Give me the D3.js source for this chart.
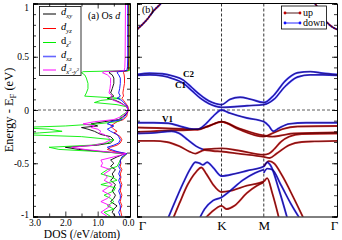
<!DOCTYPE html>
<html>
<head>
<meta charset="utf-8">
<script src="https://cdn.jsdelivr.net/npm/d3@7"></script>
<style>
body { margin: 0; background: #fff; }
svg { display: block; font-family: "Liberation Serif", "Times New Roman", serif; }
</style>
</head>
<body>
<div id="chart"></div>
<script>
// DOS data: energy grid and projected DOS of each Os d orbital
const energy = [1.0, 0.5, 0.4, 0.37, 0.36, 0.35, 0.33, 0.3, 0.25, 0.2, 0.16, 0.13, 0.11, 0.09, 0.07, 0.05, 0.03, 0.0,
  -0.03, -0.06, -0.09, -0.11, -0.13, -0.15, -0.165, -0.18, -0.2, -0.215, -0.23, -0.25, -0.28, -0.31, -0.33, -0.35,
  -0.37, -0.39, -0.41, -0.44, -0.47, -0.5, -0.53, -0.56, -0.6, -0.63, -0.66, -0.7, -0.73, -0.76, -0.8, -0.83, -0.86,
  -0.9, -0.93, -0.96, -1.0];
const dosXY = [0.04, 0.04, 0.05, 0.06, 0.6, 0.65, 0.55, 0.5, 0.5, 0.55, 0.6, 0.5, 0.7, 0.45, 0.3, 0.2, 0.1, 0.06,
  0.1, 0.2, 0.35, 0.8, 1.2, 1.0, 1.5, 1.3, 1.1, 1.0, 0.9, 0.6, 0.5, 0.6, 1.0, 2.0,
  1.6, 0.9, 0.15, 0.4, 0.6, 0.5, 0.6, 0.45, 0.55, 0.5, 0.6, 0.45, 0.5, 0.55, 0.45, 0.5, 0.6,
  0.4, 0.5, 0.55, 0.45];
const dosYZ = [0.03, 0.03, 0.03, 0.04, 0.2, 0.2, 0.18, 0.17, 0.17, 0.2, 0.22, 0.2, 0.25, 0.2, 0.15, 0.1, 0.06, 0.05,
  0.08, 0.1, 0.2, 0.4, 0.5, 0.6, 0.55, 0.5, 0.4, 0.5, 0.4, 0.3, 0.25, 0.3, 0.4, 0.6,
  0.7, 0.5, 0.1, 0.2, 0.3, 0.28, 0.3, 0.25, 0.3, 0.28, 0.3, 0.25, 0.28, 0.3, 0.25, 0.28, 0.3,
  0.25, 0.3, 0.28, 0.25];
const dosZ2 = [0.0, 0.0, 0.0, 0.02, 1.45, 1.5, 1.4, 1.35, 1.3, 1.3, 1.35, 1.4, 0.3, 0.9, 1.1, 0.4, 0.1, 0.05,
  0.15, 0.3, 0.25, 0.4, 1.0, 2.0, 3.5, 2.5, 2.1, 2.8, 3.5, 1.5, 0.5, 0.7, 1.2, 2.5,
  2.2, 1.0, 0.1, 0.2, 0.3, 0.35, 0.4, 0.7, 0.9, 0.55, 0.4, 0.9, 0.45, 0.5, 0.8, 0.6, 0.5,
  0.7, 0.5, 0.8, 0.6];
const dosXZ = [0.07, 0.07, 0.08, 0.1, 0.35, 0.4, 0.35, 0.3, 0.3, 0.32, 0.35, 0.3, 0.4, 0.25, 0.2, 0.12, 0.08, 0.06,
  0.1, 0.15, 0.25, 0.6, 0.7, 0.5, 0.6, 0.7, 0.6, 0.5, 0.4, 0.35, 0.3, 0.35, 0.5, 0.7,
  0.6, 0.4, 0.1, 0.25, 0.3, 0.3, 0.35, 0.3, 0.35, 0.3, 0.35, 0.3, 0.3, 0.35, 0.3, 0.3, 0.35,
  0.3, 0.3, 0.35, 0.3];
const dosX2Y2 = [0.14, 0.15, 0.16, 0.18, 0.8, 0.85, 0.7, 0.6, 0.6, 0.62, 0.65, 0.55, 0.6, 0.5, 0.35, 0.2, 0.1, 0.06,
  0.12, 0.25, 0.5, 1.1, 1.45, 1.1, 1.2, 1.0, 0.9, 0.95, 0.8, 0.7, 0.6, 0.8, 1.1, 1.8,
  1.4, 0.8, 0.12, 0.5, 0.9, 0.85, 0.9, 0.6, 0.8, 0.7, 0.8, 0.55, 0.7, 0.85, 0.6, 0.7, 0.9,
  0.6, 0.75, 0.9, 0.7];
const dosSeries = [
  { name: "xy", values: dosXY, color: "#000000" },
  { name: "yz", values: dosYZ, color: "#ff0000" },
  { name: "z2", values: dosZ2, color: "#00ee00" },
  { name: "xz", values: dosXZ, color: "#0000ff" },
  { name: "x2y2", values: dosX2Y2, color: "#ff00ff" }
];

// band structure along Γ-K-M-Γ, points are [k, E]
const kTicks = [0, 1, 1.5, 2.366];
const kLabels = ["Γ", "K", "M", "Γ"];
const bandTopL = [[0, 0.756], [0.06, 0.8], [0.12, 0.85], [0.19, 0.925], [0.3, 1.02], [0.33, 1.06]];
const bandTopR = [[2.04, 1.06], [2.09, 1.02], [2.17, 0.915], [2.25, 0.82], [2.32, 0.775], [2.366, 0.756]];
const bandC2 = [[0, 0.333], [0.15, 0.345], [0.3, 0.34], [0.42, 0.32], [0.55, 0.28], [0.65, 0.21], [0.75, 0.14],
  [0.85, 0.085], [0.93, 0.06], [1.0, 0.05], [1.1, 0.1], [1.22, 0.12], [1.35, 0.1], [1.5, 0.07], [1.62, 0.14],
  [1.75, 0.27], [1.9, 0.35], [2.05, 0.36], [2.2, 0.345], [2.366, 0.333]];
const bandC1 = [[0, 0.325], [0.15, 0.33], [0.3, 0.32], [0.42, 0.295], [0.55, 0.25], [0.65, 0.18], [0.75, 0.11],
  [0.85, 0.06], [0.93, 0.035], [1.0, 0.025], [1.15, 0.03], [1.3, 0.04], [1.5, 0.05], [1.62, 0.1], [1.75, 0.22],
  [1.9, 0.31], [2.05, 0.33], [2.2, 0.33], [2.366, 0.325]];
const bandV1 = [[0, -0.12], [0.2, -0.12], [0.37, -0.125], [0.5, -0.15], [0.62, -0.175], [0.72, -0.18], [0.8, -0.14],
  [0.9, -0.06], [1.0, 0.0], [1.1, -0.03], [1.3, -0.075], [1.5, -0.11], [1.56, -0.15], [1.61, -0.2], [1.68, -0.17],
  [1.8, -0.13], [2.0, -0.12], [2.366, -0.12]];
const bandM2 = [[0, -0.165], [0.3, -0.17], [0.55, -0.178], [0.72, -0.185], [0.85, -0.15], [1.0, -0.11], [1.2, -0.18],
  [1.5, -0.25], [1.6, -0.22], [1.72, -0.18], [1.9, -0.155], [2.366, -0.15]];
const bandM3 = [[0, -0.205], [0.2, -0.2], [0.4, -0.19], [0.55, -0.19], [0.72, -0.18], [0.85, -0.15], [1.0, -0.11],
  [1.2, -0.17], [1.5, -0.24], [1.6, -0.25], [1.7, -0.24], [1.85, -0.22], [2.366, -0.21]];
const bandM5a = [[0, -0.22], [0.2, -0.215], [0.41, -0.2], [0.5, -0.22], [0.6, -0.28], [0.7, -0.34], [0.78, -0.37]];
const bandM5b = [[0.78, -0.37], [0.88, -0.365], [1.0, -0.36], [1.2, -0.38], [1.5, -0.42], [1.56, -0.41],
  [1.62, -0.37], [1.7, -0.3], [1.8, -0.25], [1.95, -0.225], [2.366, -0.22]];
const bandM4 = [[0, -0.29], [0.2, -0.29], [0.35, -0.3], [0.5, -0.34], [0.62, -0.39], [0.69, -0.41], [0.75, -0.39],
  [0.8, -0.375], [0.9, -0.385], [1.0, -0.39], [1.2, -0.41], [1.5, -0.44], [1.57, -0.45], [1.65, -0.41],
  [1.8, -0.33], [1.95, -0.3], [2.1, -0.295], [2.366, -0.29]];
const bandL1 = [[0.35, -1.05], [0.45, -0.86], [0.55, -0.68], [0.64, -0.54], [0.69, -0.49], [0.74, -0.5],
  [0.78, -0.515], [0.83, -0.49], [0.9, -0.54], [1.0, -0.62], [1.15, -0.6], [1.3, -0.57], [1.5, -0.53],
  [1.54, -0.49], [1.58, -0.52], [1.68, -0.75], [1.79, -1.05]];
const bandL2 = [[0.41, -1.05], [0.5, -0.88], [0.6, -0.7], [0.7, -0.58], [0.76, -0.54], [0.82, -0.6], [0.9, -0.7],
  [1.0, -0.77], [1.1, -0.76], [1.3, -0.71], [1.5, -0.67], [1.54, -0.64], [1.6, -0.78], [1.69, -1.05]];
const bandB3 = [[0.72, -1.05], [0.8, -0.93], [0.9, -0.85], [1.0, -0.82], [1.1, -0.76], [1.25, -0.66],
  [1.4, -0.59], [1.5, -0.56]];
const bandR3 = [[0.77, -1.05], [0.88, -0.96], [1.0, -0.9], [1.06, -0.93], [1.15, -0.9], [1.3, -0.78],
  [1.42, -0.71], [1.5, -0.68]];
const bandD1 = [[1.5, -0.53], [1.56, -0.48], [1.62, -0.5], [1.72, -0.62], [1.85, -0.82], [1.99, -1.05]];
const bandD2 = [[1.5, -0.59], [1.54, -0.55], [1.6, -0.56], [1.7, -0.7], [1.82, -0.88], [1.95, -1.05]];

const bands = [
  { pts: bandTopL, spin: "up" }, { pts: bandTopR, spin: "up" },
  { pts: bandTopL, spin: "down" }, { pts: bandTopR, spin: "down" },
  { pts: bandM4, spin: "up" }, { pts: bandM5b, spin: "up" }, { pts: bandM3, spin: "up" },
  { pts: bandM2, spin: "up" }, { pts: bandL2, spin: "up" }, { pts: bandR3, spin: "up" }, { pts: bandD1, spin: "up" },
  { pts: bandM5a, spin: "down" }, { pts: bandV1, spin: "down" }, { pts: bandC1, spin: "down" },
  { pts: bandC2, spin: "down" }, { pts: bandL1, spin: "down" }, { pts: bandB3, spin: "down" },
  { pts: bandD2, spin: "down" }
];
const spinColor = { up: "#c00000", down: "#1010ff" };

const width = 342;
const height = 240;

const svg = d3.select("#chart")
  .append("svg")
  .attr("width", width)
  .attr("height", height);

const yScale = d3.scaleLinear().domain([-1, 1]).range([216.5, 3.5]);
const xDos = d3.scaleLinear().domain([3, 0]).range([33, 130]);
const xBand = d3.scaleLinear().domain([0, 2.366]).range([137, 337]);

const defs = svg.append("defs");
defs.append("clipPath").attr("id", "clipDos")
  .append("rect").attr("x", 33).attr("y", 3.5).attr("width", 97).attr("height", 213);
defs.append("clipPath").attr("id", "clipBand")
  .append("rect").attr("x", 137).attr("y", 3.5).attr("width", 200).attr("height", 213);

// ---------- (a) DOS panel ----------
const dosG = svg.append("g");
dosG.append("line")
  .attr("x1", 33).attr("x2", 130).attr("y1", yScale(0)).attr("y2", yScale(0))
  .attr("stroke", "#333").attr("stroke-width", 0.8).attr("stroke-dasharray", "3,2");

const dosLine = d3.line()
  .x(d => xDos(d[1]))
  .y(d => yScale(d[0]));

dosG.append("g").attr("clip-path", "url(#clipDos)")
  .selectAll("path")
  .data(dosSeries)
  .enter()
  .append("path")
  .attr("d", s => dosLine(energy.map((e, i) => [e, s.values[i]])))
  .attr("fill", "none")
  .attr("stroke", s => s.color)
  .attr("stroke-width", 0.9);

function styleAxis(g) {
  g.select(".domain").attr("stroke", "#000").attr("stroke-width", 1);
  g.selectAll(".tick line").attr("stroke", "#000").attr("stroke-width", 0.8);
  g.selectAll(".tick text").attr("font-family", "Liberation Serif, serif").attr("font-size", 9.5).attr("fill", "#000");
}
const minorE = d3.range(-1, 1.001, 0.1).map(v => +v.toFixed(1));

// left axis with labels
dosG.append("g").attr("transform", "translate(33,0)")
  .call(d3.axisLeft(yScale).tickValues([-1, -0.5, 0, 0.5, 1]).tickSize(-5).tickPadding(4)
    .tickFormat(d => String(d)))
  .call(styleAxis)
  .selectAll(".tick text").attr("dy", d => d === 1 ? "0.75em" : (d === -1 ? "0.1em" : "0.32em"));
dosG.append("g").attr("transform", "translate(33,0)")
  .call(d3.axisLeft(yScale).tickValues(minorE).tickSize(-3).tickFormat(""))
  .call(styleAxis);
// right axis of DOS panel
dosG.append("g").attr("transform", "translate(130,0)")
  .call(d3.axisRight(yScale).tickValues([-1, -0.5, 0, 0.5, 1]).tickSize(-5).tickFormat(""))
  .call(styleAxis);
dosG.append("g").attr("transform", "translate(130,0)")
  .call(d3.axisRight(yScale).tickValues(minorE).tickSize(-3).tickFormat(""))
  .call(styleAxis);
// bottom and top
dosG.append("g").attr("transform", "translate(0,216.5)")
  .call(d3.axisBottom(xDos).tickValues([3, 2, 1, 0]).tickSize(-5).tickPadding(3))
  .call(styleAxis)
  .selectAll(".tick text").attr("dx", d => d === 0 ? -2 : (d === 3 ? 1.5 : 0));
dosG.append("g").attr("transform", "translate(0,216.5)")
  .call(d3.axisBottom(xDos).tickValues([2.5, 1.5, 0.5]).tickSize(-3).tickFormat(""))
  .call(styleAxis);
dosG.append("g").attr("transform", "translate(0,3.5)")
  .call(d3.axisTop(xDos).tickValues([3, 2, 1, 0]).tickSize(-5).tickFormat(""))
  .call(styleAxis);
dosG.append("g").attr("transform", "translate(0,3.5)")
  .call(d3.axisTop(xDos).tickValues([2.5, 1.5, 0.5]).tickSize(-3).tickFormat(""))
  .call(styleAxis);

// DOS legend
const legG = dosG.append("g");
legG.append("rect").attr("x", 39.5).attr("y", 6.5).attr("width", 41.5).attr("height", 69)
  .attr("fill", "#fff").attr("stroke", "#000").attr("stroke-width", 0.8);
const legRows = [14, 28.5, 42.5, 56.5, 70];
const legSubs = ["xy", "yz", "z", "xz", "x"];
dosSeries.forEach((s, i) => {
  const y = legRows[i];
  legG.append("line").attr("x1", 43).attr("x2", 56).attr("y1", y).attr("y2", y)
    .attr("stroke", s.color).attr("stroke-width", i === 3 ? 1.6 : 1).attr("stroke-opacity", i === 3 ? 0.6 : 1);
  const t = legG.append("text").attr("x", 61).attr("y", y + 1).attr("font-size", 10.5);
  t.append("tspan").attr("font-style", i === 2 ? "normal" : "italic").text("d");
  t.append("tspan").attr("font-size", 6.5).attr("dy", 3).attr("font-style", "italic").text(legSubs[i]);
  if (i === 2) {
    t.append("tspan").attr("font-size", 5).attr("dy", -3).text("2");
  } else if (i === 4) {
    t.append("tspan").attr("font-size", 5).attr("dy", -3).text("2");
    t.append("tspan").attr("font-size", 6.5).attr("dy", 3).text("-");
    t.append("tspan").attr("font-size", 6.5).attr("font-style", "italic").text("y");
    t.append("tspan").attr("font-size", 5).attr("dy", -3).text("2");
  }
});

const aLabel = dosG.append("text").attr("x", 88).attr("y", 19).attr("font-size", 10);
aLabel.append("tspan").text("(a) Os ");
aLabel.append("tspan").attr("font-style", "italic").text("d");

// ---------- (b) band panel ----------
const bandG = svg.append("g");
bandG.append("line")
  .attr("x1", 137).attr("x2", 337).attr("y1", yScale(0)).attr("y2", yScale(0))
  .attr("stroke", "#333").attr("stroke-width", 0.8).attr("stroke-dasharray", "3,2");
bandG.selectAll(".kline")
  .data(kTicks.slice(1, 3))
  .enter()
  .append("line")
  .attr("x1", d => xBand(d)).attr("x2", d => xBand(d))
  .attr("y1", 3.5).attr("y2", 216.5)
  .attr("stroke", "#000").attr("stroke-width", 0.8).attr("stroke-dasharray", "3,2");

const bandLine = d3.line()
  .curve(d3.curveMonotoneX)
  .x(d => xBand(d[0]))
  .y(d => yScale(d[1]));

const bandLayer = bandG.append("g").attr("clip-path", "url(#clipBand)");
bandLayer.selectAll(".fat")
  .data(bands)
  .enter()
  .append("path")
  .attr("d", b => bandLine(b.pts))
  .attr("fill", "none")
  .attr("stroke", b => spinColor[b.spin])
  .attr("stroke-width", 1.9)
  .attr("stroke-dasharray", b => (b.pts === bandTopL || b.pts === bandTopR) && b.spin === "down" ? "1.6,1.2" : null)
  .attr("stroke-opacity", 0.85);
bandLayer.selectAll(".core")
  .data(bands)
  .enter()
  .append("path")
  .attr("d", b => bandLine(b.pts))
  .attr("fill", "none")
  .attr("stroke", "#200000")
  .attr("stroke-width", 0.5);

bandG.append("g").attr("transform", "translate(137,0)")
  .call(d3.axisLeft(yScale).tickValues([-1, -0.5, 0, 0.5, 1]).tickSize(-5).tickFormat(""))
  .call(styleAxis);
bandG.append("g").attr("transform", "translate(137,0)")
  .call(d3.axisLeft(yScale).tickValues(minorE).tickSize(-3).tickFormat(""))
  .call(styleAxis);
bandG.append("g").attr("transform", "translate(337,0)")
  .call(d3.axisRight(yScale).tickValues([-1, -0.5, 0, 0.5, 1]).tickSize(-5).tickFormat(""))
  .call(styleAxis);
bandG.append("g").attr("transform", "translate(337,0)")
  .call(d3.axisRight(yScale).tickValues(minorE).tickSize(-3).tickFormat(""))
  .call(styleAxis);
bandG.append("g").attr("transform", "translate(0,216.5)")
  .call(d3.axisBottom(xBand).tickValues(kTicks).tickSize(0).tickPadding(4)
    .tickFormat((d, i) => kLabels[i]))
  .call(styleAxis)
  .selectAll(".tick text")
  .attr("font-size", 13)
  .attr("dx", (d, i) => i === 0 ? 5 : (i === 3 ? -3 : 0));
bandG.append("line").attr("x1", 137).attr("x2", 337).attr("y1", 3.5).attr("y2", 3.5)
  .attr("stroke", "#000").attr("stroke-width", 1);

bandG.append("text").attr("x", 142).attr("y", 13).attr("font-size", 10).text("(b)");
bandG.append("text").attr("x", 183).attr("y", 77).attr("font-size", 9).attr("font-weight", "bold").text("C2");
bandG.append("text").attr("x", 175).attr("y", 88).attr("font-size", 9).attr("font-weight", "bold").text("C1");
bandG.append("text").attr("x", 162).attr("y", 122).attr("font-size", 9).attr("font-weight", "bold").text("V1");

// spin legend
const spinLeg = bandG.append("g");
spinLeg.append("rect").attr("x", 281.5).attr("y", 6).attr("width", 45).attr("height", 23)
  .attr("fill", "#fff").attr("stroke", "#000").attr("stroke-width", 0.8);
[["up", 13], ["down", 23]].forEach(([name, y]) => {
  spinLeg.append("line").attr("x1", 285).attr("x2", 300).attr("y1", y).attr("y2", y)
    .attr("stroke", name === "up" ? "#400000" : spinColor.down).attr("stroke-width", 0.9);
  [285, 300].forEach(x => spinLeg.append("circle").attr("cx", x).attr("cy", y).attr("r", 1.4)
    .attr("fill", spinColor[name]));
  spinLeg.append("text").attr("x", 303).attr("y", y + 3).attr("font-size", 10).text(name);
});

// axis titles
const yTitle = svg.append("text")
  .attr("transform", "translate(13,110) rotate(-90)")
  .attr("text-anchor", "middle")
  .attr("font-size", 12.5);
yTitle.append("tspan").text("Energy - E");
yTitle.append("tspan").attr("font-size", 8.5).attr("dy", 3).text("F");
yTitle.append("tspan").attr("dy", -3).text(" (eV)");

svg.append("text").attr("x", 82).attr("y", 238).attr("text-anchor", "middle")
  .attr("font-size", 11.5).text("DOS (/eV/atom)");
</script>
</body>
</html>
